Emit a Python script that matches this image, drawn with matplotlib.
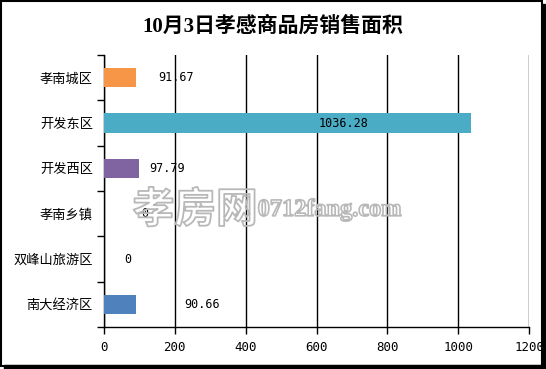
import matplotlib.pyplot as plt
import matplotlib.patheffects as pe
from matplotlib.patches import Rectangle
import numpy as np

plt.rcParams['font.family'] = ['Noto Sans CJK SC', 'DejaVu Sans']

# data
categories = ['孝南城区', '开发东区', '开发西区', '孝南乡镇', '双峰山旅游区', '南大经济区']
areas = [91.67, 1036.28, 97.79, 0, 0, 90.66]
colors = ['#F79646', '#4BACC6', '#8064A2', '#4F81BD', '#4F81BD', '#4F81BD']
# where Excel dropped the value labels (data units)
label_x = [203, 675, 178, 116, 68, 277]

fig = plt.figure(figsize=(5.46, 3.69), dpi=100)
ax = fig.add_axes([0.1905, 0.1138, 0.7784, 0.7371])

y = np.arange(len(categories))
ax.barh(y, areas, height=0.42, color=colors, zorder=3)

for yi, v, lx in zip(y, areas, label_x):
    txt = f'{v:.2f}' if v else '0'
    ax.text(lx, yi, txt, ha='center', va='center', fontsize=8.5,
            family='DejaVu Sans Mono', zorder=6)

ax.set_xlim(0, 1200)
ax.set_ylim(5.5, -0.5)
ax.set_xticks(range(0, 1201, 200))
ax.set_xticklabels([str(t) for t in range(0, 1201, 200)], family='DejaVu Sans Mono', fontsize=9)
ax.set_yticks(y)
ax.set_yticklabels(categories, fontsize=9.5)
ax.tick_params(axis='y', length=0, pad=8)
ax.set_yticks(np.arange(-0.5, 6, 1), minor=True)
ax.tick_params(axis='y', which='minor', length=5, width=1, direction='out')
ax.tick_params(axis='x', length=5, width=1, direction='out', pad=5)

ax.grid(axis='x', color='black', linewidth=1, zorder=1)
for s in ['top', 'right']:
    ax.spines[s].set_visible(False)
ax.spines['left'].set_linewidth(1)
ax.spines['bottom'].set_linewidth(1)

fig.text(0.5, 0.927, '10月3日孝感商品房销售面积', ha='center', va='center',
         fontsize=15, fontweight='bold', family=['Liberation Serif', 'Noto Sans CJK SC'])

# watermark: outline only, grid shows through
clear = (1, 1, 1, 0)
t1 = fig.text(0.243, 0.43, '孝房网', fontsize=30, color=clear, fontweight='bold',
              va='center', ha='left', zorder=2)
t1.set_path_effects([pe.Stroke(linewidth=1.3, foreground='#b8b8b8')])
t2 = fig.text(0.472, 0.43, '0712fang.com', fontsize=17.5, color=clear, fontweight='bold',
              family='Liberation Serif', va='center', ha='left', zorder=2)
t2.set_path_effects([pe.Stroke(linewidth=1.2, foreground='#b8b8b8')])

# frame with shadow
fig.patches.append(Rectangle((0.002, 0.008), 0.99, 0.989, transform=fig.transFigure,
                             fill=False, edgecolor='black', linewidth=1.5))
fig.patches.append(Rectangle((0.993, 0.0), 0.006, 0.99, transform=fig.transFigure,
                             color='black'))
fig.patches.append(Rectangle((0.008, 0.0), 0.99, 0.012, transform=fig.transFigure,
                             color='black'))

fig.savefig('out.png', dpi=100)
